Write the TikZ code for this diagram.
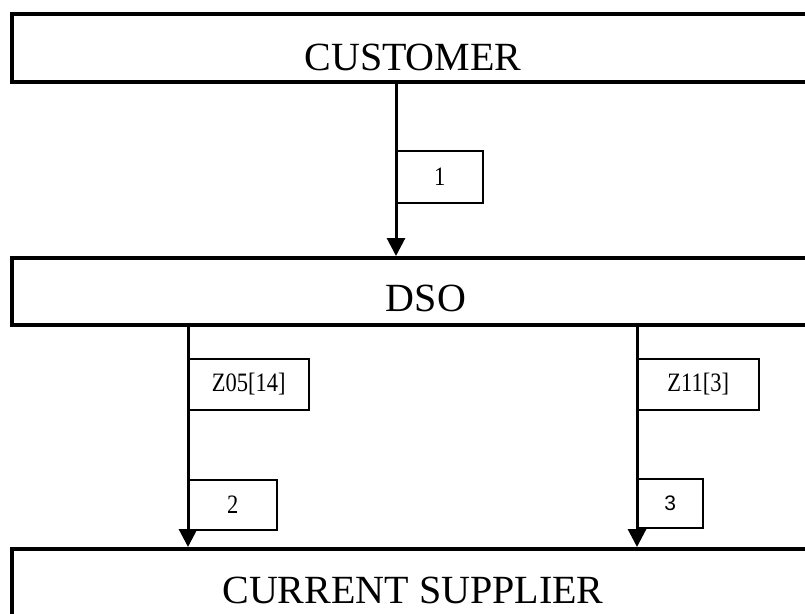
\documentclass[tikz,border=0pt]{standalone}
\usepackage{graphicx}
\usepackage{fontspec}
\setmainfont{Liberation Serif}
\newfontfamily\sansf{Liberation Sans}
\usetikzlibrary{arrows.meta}
\newcommand\talltxt[1]{\scalebox{1}[1.18]{#1}}
\begin{document}
\begin{tikzpicture}[x=1pt,y=-1pt,
  bigbox/.style={draw,line width=4pt,inner sep=0pt,anchor=north west},
  labbox/.style={draw,line width=1.6pt,inner sep=0pt,anchor=north west,font=\fontsize{22.5}{26}\selectfont},
  bigtext/.style={anchor=base,inner sep=0pt,font=\fontsize{40}{44}\selectfont},
  arr/.style={line width=3pt,-{Triangle[width=18pt,length=18pt]}}]
\useasboundingbox (0,0) rectangle (805,613);
\clip (0,0) rectangle (805,613);
% main boxes
\node[bigbox,minimum width=830pt,minimum height=68pt] (cust) at (10,12) {};
\node[bigbox,minimum width=830pt,minimum height=67pt] (dso) at (10,256) {};
\node[bigbox,minimum width=830pt,minimum height=90pt] (sup) at (10,547) {};
\node[bigtext] (tcust) at (413,70) {CUSTOMER};
\node[bigtext] (tdso) at (426,311) {DSO};
\node[bigtext] (tsup) at (413,603) {CURRENT SUPPLIER};
% label boxes
\node[labbox,minimum width=86pt,minimum height=52pt] (l1) at (396,150) {\talltxt{1}};
\node[labbox,minimum width=120pt,minimum height=51pt] (l2) at (188,358) {\talltxt{Z05[14]}};
\node[labbox,minimum width=88pt,minimum height=50pt] (l3) at (188,479) {\talltxt{2}};
\node[labbox,minimum width=121pt,minimum height=51pt] (l4) at (637,358) {\talltxt{Z11[3]}};
\node[labbox,minimum width=65pt,minimum height=49pt,font=\sansf\fontsize{21}{24}\selectfont] (l5) at (637,478) {3};
% connectors
\draw[arr] (cust.south -| l1.west) -- (dso.north -| l1.west);
\draw[arr] (dso.south -| l2.west) -- (sup.north -| l2.west);
\draw[arr] (dso.south -| l4.west) -- (sup.north -| l4.west);
\end{tikzpicture}
\end{document}
